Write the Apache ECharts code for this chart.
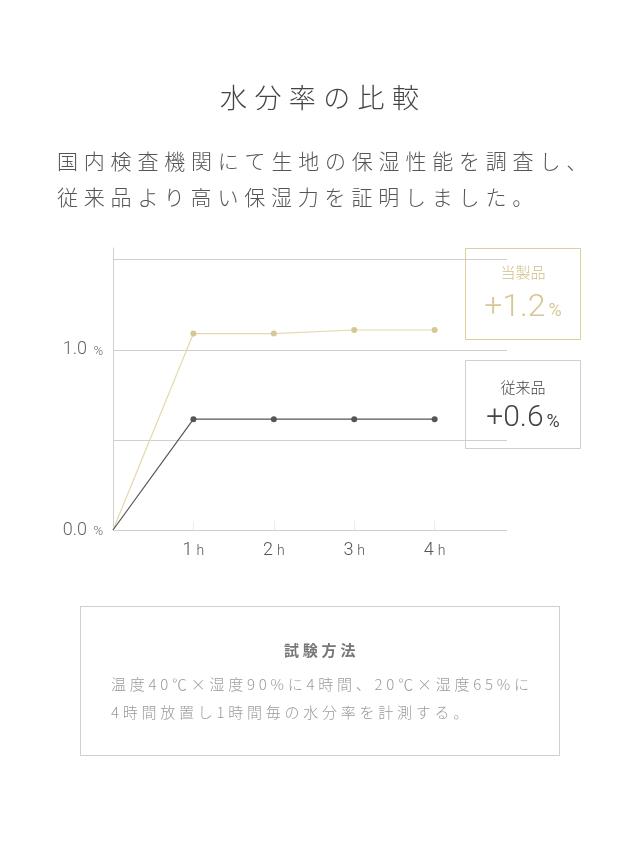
<!DOCTYPE html>
<html><head><meta charset="utf-8">
<script src="https://cdn.jsdelivr.net/npm/echarts@6/dist/echarts.min.js"></script>
<style>
html,body{margin:0;padding:0;background:#fff;width:640px;height:856px;overflow:hidden;font-family:"Noto Sans CJK JP","Noto Sans",sans-serif;}
#chart{position:absolute;left:0;top:0;width:640px;height:856px;}
.t{position:absolute;white-space:nowrap;font-weight:300;}
#title{left:220px;top:77px;font-size:27px;line-height:40px;letter-spacing:7.4px;color:#444;}
#sub{left:57px;top:142px;font-size:21px;line-height:36px;letter-spacing:5.8px;color:#555;}
#method{position:absolute;left:80px;top:606px;width:478px;height:148px;border:1px solid #d0d0d0;}
#mhead{left:203px;top:31px;font-size:15px;line-height:24px;letter-spacing:3.8px;color:#777;font-weight:bold;}
#mbody{left:30px;top:63px;font-size:15px;line-height:28px;letter-spacing:3.75px;color:#9a9a9a;}
</style></head>
<body>
<div id="chart"></div>
<div class="t" id="title">水分率の比較</div>
<div class="t" id="sub">国内検査機関にて生地の保湿性能を調査し、<br>従来品より高い保湿力を証明しました。</div>
<div id="method">
  <div class="t" id="mhead">試験方法</div>
  <div class="t" id="mbody">温度40℃×湿度90%に4時間、20℃×湿度65%に<br>4時間放置し1時間毎の水分率を計測する。</div>
</div>
<script>
const hours = [0, 1, 2, 3, 4];
const ourProduct = [0, 1.09, 1.09, 1.11, 1.11];
const conventional = [0, 0.615, 0.615, 0.615, 0.615];
const seriesNames = ['当製品', '従来品'];
const totals = ['+1.2', '+0.6'];
const yLabelValues = [0, 1];

const chart = echarts.init(document.getElementById('chart'), null, {renderer: 'canvas'});
const numFont = 'Roboto, "Noto Sans", sans-serif';

function toData(arr) {
  return hours.map((h, i) => i === 0 ? {value: [h, arr[i]], symbol: 'none'} : [h, arr[i]]);
}

const option = {
  animation: false,
  grid: {left: 113, right: 133, top: 248, bottom: 326},
  xAxis: {
    type: 'value', min: 0, max: 4.9, interval: 1,
    axisLine: {show: false},
    splitLine: {show: false},
    axisTick: {show: true, inside: true, length: 9, customValues: hours.slice(1), lineStyle: {color: '#ebebeb'}},
    axisLabel: {
      customValues: hours.slice(1), margin: 11,
      formatter: v => v + '{u|h}',
      color: '#555', fontFamily: numFont, fontSize: 18, fontWeight: 300,
      rich: {u: {fontSize: 14, color: '#555', fontFamily: numFont, padding: [3, 0, 0, 4]}}
    }
  },
  yAxis: {
    type: 'value', min: 0, max: 1.565, interval: 0.5,
    axisLine: {show: true, lineStyle: {color: '#cfcfcf', width: 1}},
    axisTick: {show: false},
    splitLine: {show: true, lineStyle: {color: ['#cfcfcf', '#cfcfcf', '#cfcfcf', '#cfcfcf', 'rgba(0,0,0,0)'], width: 1}},
    axisLabel: {
      showMaxLabel: false, margin: 10,
      formatter: v => yLabelValues.some(y => Math.abs(y - v) < 1e-6) ? v.toFixed(1) + ' {u|%}' : '',
      color: '#666', fontFamily: numFont, fontSize: 18, fontWeight: 300,
      rich: {u: {fontSize: 13, color: '#666', fontFamily: numFont, padding: [3, 0, 0, 2]}}
    }
  },
  series: [
    {
      name: seriesNames[0], type: 'line', data: toData(ourProduct),
      symbol: 'circle', symbolSize: 6,
      lineStyle: {color: '#e4d9ae', width: 1.2},
      itemStyle: {color: '#d6c894'}, z: 3
    },
    {
      name: seriesNames[1], type: 'line', data: toData(conventional),
      symbol: 'circle', symbolSize: 6,
      lineStyle: {color: '#555', width: 1.2},
      itemStyle: {color: '#555'}, z: 4
    }
  ],
  graphic: [
    {
      type: 'group', left: 465, top: 248, z: 10,
      children: [
        {type: 'rect', shape: {x: 0, y: 0, width: 115, height: 91}, style: {fill: '#fff', stroke: '#dccf9e', lineWidth: 1}},
        {type: 'text', x: 57.5, y: 24, style: {text: seriesNames[0], fill: '#cfbe86', font: '300 15px "Noto Sans CJK JP", sans-serif', align: 'center', verticalAlign: 'middle'}},
        {type: 'text', x: 57.5, y: 59, style: {
          text: totals[0] + '{u|%}', fill: '#d6c795', align: 'center', verticalAlign: 'middle',
          font: '300 32px ' + numFont,
          rich: {u: {fontSize: 18, fill: '#d6c795', fontFamily: numFont, padding: [8, 0, 0, 3]}}
        }}
      ]
    },
    {
      type: 'group', left: 465, top: 360, z: 10,
      children: [
        {type: 'rect', shape: {x: 0, y: 0, width: 115, height: 88}, style: {fill: '#fff', stroke: '#cfcfcf', lineWidth: 1}},
        {type: 'text', x: 57.5, y: 27, style: {text: seriesNames[1], fill: '#444', font: '300 15px "Noto Sans CJK JP", sans-serif', align: 'center', verticalAlign: 'middle'}},
        {type: 'text', x: 57.5, y: 58, style: {
          text: totals[1] + '{u|%}', fill: '#444', align: 'center', verticalAlign: 'middle',
          font: '300 30px ' + numFont,
          rich: {u: {fontSize: 18, fill: '#444', fontFamily: numFont, padding: [7, 0, 0, 3]}}
        }}
      ]
    }
  ]
};
chart.setOption(option);
</script>
</body></html>
